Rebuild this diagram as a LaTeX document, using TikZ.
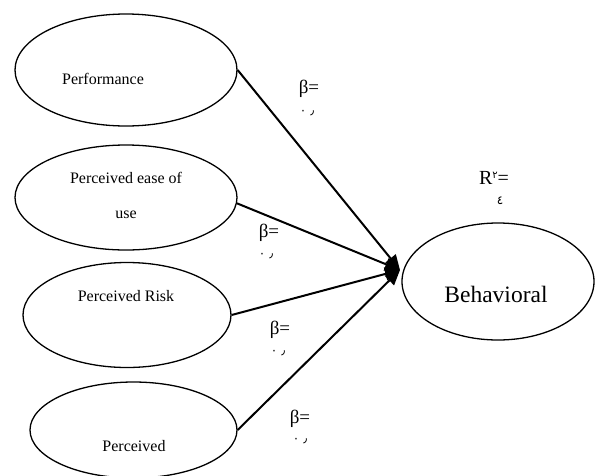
\documentclass[tikz,border=0pt]{standalone}
\usepackage{fontspec}
\setmainfont{Liberation Serif}
\newfontfamily\arabicfont[Script=Arabic]{DejaVu Sans}
\usetikzlibrary{shapes.geometric,arrows.meta}
\newcommand{\zerosep}{{\arabicfont ٠}\hspace{4pt}{\arabicfont ٫}}
\begin{document}
\begin{tikzpicture}[x=1pt,y=-1pt,
  ell/.style={draw,ellipse,line width=1.3pt,inner sep=0pt},
  lbl/.style={font=\fontsize{16}{18}\selectfont,inner sep=0pt},
  beta/.style={font=\fontsize{19}{21}\selectfont,inner sep=0pt},
  num/.style={font=\arabicfont\fontsize{12}{14}\selectfont,inner sep=0pt},
  arr/.style={line width=2pt,-{Triangle[length=15pt,width=13pt]}}]
\useasboundingbox (0,0) rectangle (598,475);
% ellipses
\node[ell,minimum width=222pt,minimum height=112pt] (e1) at (126,70) {};
\node[ell,minimum width=222pt,minimum height=105pt] (e2) at (126,197.5) {};
\node[ell,minimum width=208pt,minimum height=105pt] (e3) at (127,315) {};
\node[ell,minimum width=207pt,minimum height=96pt] (e4) at (133.5,430) {};
\node[ell,minimum width=192pt,minimum height=117pt] (e5) at (498,281.5) {};
% texts
\node[lbl] (t1) at (103,79) {Performance};
\node[lbl] (t2a) at (126,178) {Perceived ease of};
\node[lbl] (t2b) at (126,215) {use};
\node[lbl] (t3) at (126,296) {Perceived Risk};
\node[lbl] (t4) at (134,446) {Perceived};
\node[font=\fontsize{23.5}{26}\selectfont,inner sep=0pt] (t5) at (496,294) {Behavioral};
% arrows
\coordinate (tip) at (400,270);
\draw[arr] (e1.east) -- (tip);
\draw[arr] (e2.-3) -- (tip);
\draw[arr] (e3.east) -- (tip);
\draw[arr] (e4.east) -- (tip);
% beta labels
\node[beta] (b1) at (309,89) {β=};
\node[num] (n1) at (307,113) {\zerosep};
\node[beta] (b2) at (269,233) {β=};
\node[num] (n2) at (266,256) {\zerosep};
\node[beta] (b3) at (280,330) {β=};
\node[num] (n3) at (278,353) {\zerosep};
\node[beta] (b4) at (300,419) {β=};
\node[num] (n4) at (300,441) {\zerosep};
% R^2
\node[inner sep=0pt,font=\fontsize{20}{22}\selectfont] (r) at (494,178) {R\raisebox{6pt}{\arabicfont\fontsize{10}{11}\selectfont ٢}=};
\node[num] (r4) at (500,201) {٤};
\end{tikzpicture}
\end{document}
